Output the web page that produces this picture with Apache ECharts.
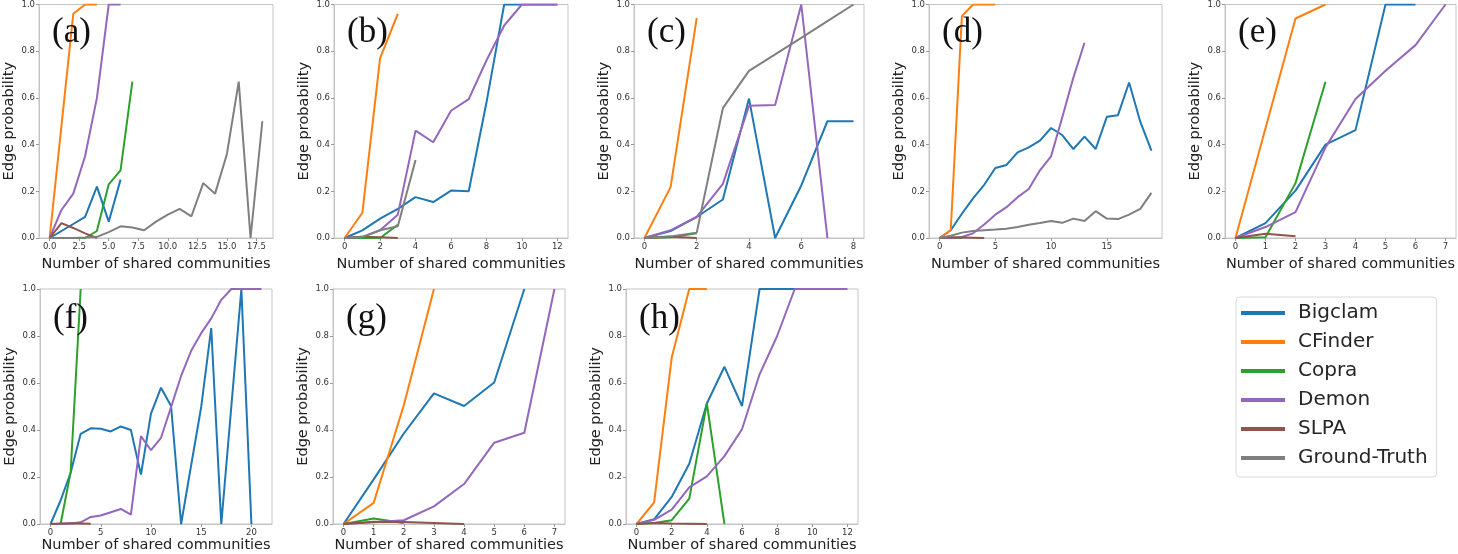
<!DOCTYPE html>
<html>
<head>
<meta charset="utf-8">
<script src="https://cdn.jsdelivr.net/npm/echarts@6/dist/echarts.min.js"></script>
<style>html,body{margin:0;padding:0;background:#fff;}#c{width:1458px;height:554px;}</style>
</head>
<body>
<div id="c"></div>
<script>
// ---------- data ----------
const seriesNames = ['Bigclam', 'CFinder', 'Copra', 'Demon', 'SLPA', 'Ground-Truth'];
const panelLabels = ['(a)', '(b)', '(c)', '(d)', '(e)', '(f)', '(g)', '(h)'];

// panel (a)
const a_Bigclam = [0, 0.03, 0.06, 0.09, 0.22, 0.07, 0.25];
const a_CFinder = [0, 0.48, 0.96, 1, 1];
const a_Copra = [0, 0, 0, 0, 0.03, 0.23, 0.29, 0.67];
const a_Demon = [0, 0.12, 0.19, 0.35, 0.60, 1, 1];
const a_SLPA = [0, 0.064, 0.043, 0.02, 0];
const a_Truth = [0, 0, 0, 0.002, 0.005, 0.025, 0.05, 0.045, 0.033, 0.07, 0.10, 0.125, 0.093, 0.235, 0.19, 0.36, 0.67, 0, 0.50];
// panel (b)
const b_Bigclam = [0, 0.033, 0.083, 0.125, 0.175, 0.154, 0.203, 0.20, 0.58, 1, 1, 1, 1];
const b_CFinder = [0, 0.108, 0.77, 0.96];
const b_Copra = [0, 0, 0, 0.057];
const b_Demon = [0, 0.005, 0.033, 0.10, 0.46, 0.41, 0.545, 0.595, 0.76, 0.91, 1, 1, 1];
const b_SLPA = [0, 0.005, 0.003, 0];
const b_Truth = [0, 0.004, 0.033, 0.05, 0.334];
// panel (c)
const c_Bigclam = [0, 0.03, 0.09, 0.165, 0.597, 0, 0.225, 0.5, 0.5];
const c_CFinder = [0, 0.218, 0.943];
const c_Copra = [0, 0.003, 0.02];
const c_Demon = [0, 0.033, 0.09, 0.232, 0.566, 0.57, 1, 0];
const c_SLPA = [0, 0.005, 0];
const c_Truth = [0, 0.007, 0.023, 0.556, 0.716, 0.786, 0.857, 0.929, 1];
// panel (d)
const d_Bigclam = [0, 0.033, 0.104, 0.17, 0.228, 0.3, 0.313, 0.367, 0.388, 0.417, 0.471, 0.441, 0.381, 0.434, 0.381, 0.519, 0.526, 0.666, 0.498, 0.374];
const d_CFinder = [0, 0.033, 0.95, 1, 1, 1];
const d_Copra = [0, 0, 0];
const d_Demon = [0, 0, 0.004, 0.02, 0.058, 0.1, 0.132, 0.175, 0.21, 0.29, 0.35, 0.516, 0.687, 0.836];
const d_SLPA = [0, 0.003, 0.002, 0.001, 0];
const d_Truth = [0, 0.01, 0.023, 0.03, 0.033, 0.036, 0.04, 0.047, 0.057, 0.064, 0.073, 0.065, 0.083, 0.073, 0.115, 0.083, 0.081, 0.1, 0.125, 0.193];
// panel (e)
const e_Bigclam = [0, 0.064, 0.203, 0.4, 0.462, 1, 1];
const e_CFinder = [0, 0.47, 0.94, 1];
const e_Copra = [0, 0.003, 0.235, 0.669];
const e_Demon = [0, 0.047, 0.111, 0.388, 0.595, 0.716, 0.826, 1];
const e_SLPA = [0, 0.018, 0.008];
const e_Truth = [];
// panel (f)
const f_Bigclam = [0, 0.1, 0.218, 0.384, 0.407, 0.405, 0.394, 0.415, 0.4, 0.21, 0.47, 0.58, 0.502, 0, 0.25, 0.498, 0.834, 0, 0.5, 1, 0];
const f_CFinder = [];
const f_Copra = [0, 0, 0.22, 1];
const f_Demon = [0, 0, 0.002, 0.007, 0.03, 0.036, 0.05, 0.064, 0.04, 0.374, 0.314, 0.367, 0.498, 0.63, 0.737, 0.812, 0.875, 0.954, 1, 1, 1, 1];
const f_SLPA = [0, 0.002, 0.003, 0.002, 0.001];
const f_Truth = [];
// panel (g)
const g_Bigclam = [0, 0.19, 0.385, 0.556, 0.502, 0.602, 1];
const g_CFinder = [0, 0.09, 0.505, 1];
const g_Copra = [0, 0.023, 0.004];
const g_Demon = [0, 0.007, 0.016, 0.075, 0.17, 0.346, 0.388, 1];
const g_SLPA = [0, 0.01, 0.008, 0.004, 0];
const g_Truth = [];
// panel (h)
const h_Bigclam = [0, 0.02, 0.115, 0.256, 0.513, 0.669, 0.502, 1, 1, 1];
const h_CFinder = [0, 0.092, 0.708, 1, 1];
const h_Copra = [0, 0.004, 0.016, 0.108, 0.513, 0];
const h_Demon = [0, 0.018, 0.061, 0.156, 0.203, 0.289, 0.403, 0.637, 0.8, 1, 1, 1, 1];
const h_SLPA = [0, 0.004, 0.002, 0.001, 0];
const h_Truth = [];

// x tick labels per panel
const a_xTicks = [0, 2.5, 5, 7.5, 10, 12.5, 15, 17.5];
const b_xTicks = [0, 2, 4, 6, 8, 10, 12];
const c_xTicks = [0, 2, 4, 6, 8];
const d_xTicks = [0, 5, 10, 15];
const e_xTicks = [0, 1, 2, 3, 4, 5, 6, 7];
const f_xTicks = [0, 5, 10, 15, 20];
const g_xTicks = [0, 1, 2, 3, 4, 5, 6, 7];
const h_xTicks = [0, 2, 4, 6, 8, 10, 12];
const yTicks = [0, 0.2, 0.4, 0.6, 0.8, 1.0];

// ---------- assembly ----------
const panels = [
  [a_Bigclam, a_CFinder, a_Copra, a_Demon, a_SLPA, a_Truth],
  [b_Bigclam, b_CFinder, b_Copra, b_Demon, b_SLPA, b_Truth],
  [c_Bigclam, c_CFinder, c_Copra, c_Demon, c_SLPA, c_Truth],
  [d_Bigclam, d_CFinder, d_Copra, d_Demon, d_SLPA, d_Truth],
  [e_Bigclam, e_CFinder, e_Copra, e_Demon, e_SLPA, e_Truth],
  [f_Bigclam, f_CFinder, f_Copra, f_Demon, f_SLPA, f_Truth],
  [g_Bigclam, g_CFinder, g_Copra, g_Demon, g_SLPA, g_Truth],
  [h_Bigclam, h_CFinder, h_Copra, h_Demon, h_SLPA, h_Truth]
];
const xTicks = [a_xTicks, b_xTicks, c_xTicks, d_xTicks, e_xTicks, f_xTicks, g_xTicks, h_xTicks];
const xDecimals = [1, 0, 0, 0, 0, 0, 0, 0];

const colors = ['#1f77b4', '#ff7f0e', '#2ca02c', '#9467bd', '#8c564b', '#7f7f7f'];
const gridBoxes = [
  {left: 39, top: 3, width: 234, height: 235},
  {left: 334, top: 3, width: 234, height: 235},
  {left: 634, top: 3, width: 230, height: 235},
  {left: 929, top: 3, width: 233, height: 235},
  {left: 1225, top: 3, width: 231, height: 235},
  {left: 40, top: 289, width: 232, height: 235},
  {left: 333, top: 289, width: 232, height: 235},
  {left: 626, top: 289, width: 232, height: 235}
];
const nameGaps = [19, 19, 19, 19, 19, 13, 13, 13];

const FONT = '"DejaVu Sans", sans-serif';
const grid = [], xAxis = [], yAxis = [], series = [], graphic = [];

panels.forEach((panel, p) => {
  const box = gridBoxes[p];
  grid.push(Object.assign({show: true, borderColor: '#c4c4c4', borderWidth: 1, backgroundColor: 'transparent'}, box));
  let nMax = 0;
  panel.forEach(arr => { if (arr.length - 1 > nMax) nMax = arr.length - 1; });
  const pad = nMax * 0.05;
  const dec = xDecimals[p];
  xAxis.push({
    gridIndex: p, type: 'value', min: -pad, max: nMax + pad,
    axisLine: {show: true, onZero: false, lineStyle: {color: '#c4c4c4', width: 1}},
    axisTick: {show: true, length: 3, customValues: xTicks[p], lineStyle: {color: '#999'}},
    axisLabel: {customValues: xTicks[p], formatter: v => Number(v).toFixed(dec), fontSize: 8.5, color: '#333', margin: 4, fontFamily: FONT},
    splitLine: {show: false},
    name: 'Number of shared communities', nameLocation: 'middle', nameGap: nameGaps[p],
    nameTextStyle: {fontSize: 14.5, color: '#222', fontFamily: FONT}
  });
  yAxis.push({
    gridIndex: p, type: 'value', min: 0, max: 1, interval: 0.2,
    axisLine: {show: true, onZero: false, lineStyle: {color: '#c4c4c4', width: 1}},
    axisTick: {show: true, length: 3, lineStyle: {color: '#999'}},
    axisLabel: {formatter: v => Number(v).toFixed(1), fontSize: 8.5, color: '#333', margin: 4, fontFamily: FONT},
    splitLine: {show: false},
    name: 'Edge probability', nameLocation: 'middle', nameGap: 22, nameRotate: 90,
    nameTextStyle: {fontSize: 14.5, color: '#222', fontFamily: FONT}
  });
  panel.forEach((vals, s) => {
    series.push({
      type: 'line', name: seriesNames[s], xAxisIndex: p, yAxisIndex: p,
      data: vals.map((v, i) => [i, v]),
      symbol: 'none', smooth: false,
      lineStyle: {color: colors[s], width: 2},
      itemStyle: {color: colors[s]},
      z: 2 + s * 0.01
    });
  });
  graphic.push({
    type: 'text', x: box.left + 13, y: box.top + 30,
    style: {text: panelLabels[p], font: '35px "Liberation Serif", serif', fill: '#111', textVerticalAlign: 'middle'},
    z: 100
  });
});

const chart = echarts.init(document.getElementById('c'), null, {renderer: 'canvas'});
chart.setOption({
  animation: false,
  backgroundColor: '#fff',
  color: colors,
  grid, xAxis, yAxis, series, graphic,
  legend: {
    orient: 'vertical', left: 1236, top: 297,
    data: seriesNames, icon: 'rect', itemWidth: 44, itemHeight: 4, itemGap: 9,
    padding: [6, 9, 9, 5], borderColor: '#d9d9d9', borderWidth: 1, borderRadius: 4,
    textStyle: {fontSize: 20, color: '#262626', fontFamily: FONT, padding: [0, 0, 0, 8]}
  }
});
</script>
</body>
</html>
